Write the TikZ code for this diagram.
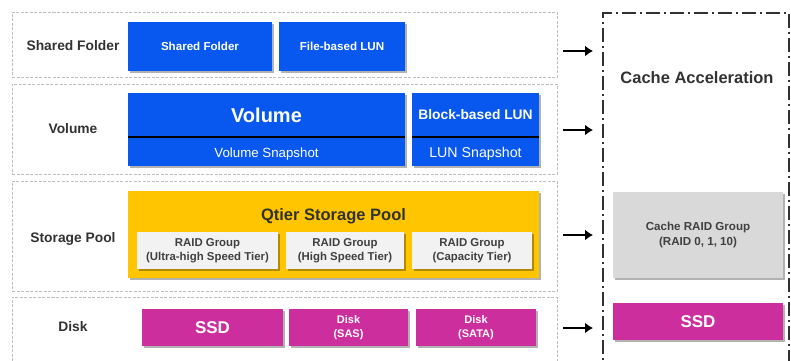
\documentclass[tikz,border=0pt]{standalone}
\usepackage{fontspec}
\setmainfont{Liberation Sans}
\usetikzlibrary{shadows,arrows.meta}
\definecolor{qblue}{RGB}{8,88,240}
\definecolor{qyellow}{RGB}{255,198,0}
\definecolor{qmagenta}{RGB}{204,46,158}
\definecolor{qcache}{RGB}{217,217,217}
\definecolor{qraid}{RGB}{242,242,242}
\definecolor{rowgray}{RGB}{190,190,190}
\definecolor{labelgray}{RGB}{50,50,50}
\definecolor{boxtext}{RGB}{64,64,64}
\begin{document}
\begin{tikzpicture}[x=1pt,y=-1pt,
  rowbox/.style={draw=rowgray, dash pattern=on 3pt off 1.5pt, line width=0.8pt},
  rowlabel/.style={font=\fontsize{13.8}{16}\selectfont\bfseries, text=labelgray},
  shadowed/.style={drop shadow={shadow xshift=1.8pt, shadow yshift=-1.8pt, opacity=0.3, fill=black}},
  box/.style={shadowed, inner sep=0pt, outer sep=0pt, draw=none, align=center},
  bluebox/.style={box, fill=qblue, text=white},
  magbox/.style={box, fill=qmagenta, text=white},
  raidbox/.style={box, fill=qraid, text=boxtext, font=\fontsize{11.4}{14.5}\selectfont\bfseries},
  arr/.style={line width=2.6pt, -{Latex[length=8pt,width=11pt]}},
  cachebox/.style={draw=labelgray, line width=1.6pt, dash pattern=on 14pt off 4pt on 2pt off 4pt}
]
\useasboundingbox (0,0) rectangle (791,360);
\clip (0,0) rectangle (791,360);
% row boxes
\node[rowbox, minimum width=545pt, minimum height=65pt, inner sep=0pt] (row1) at (284.5,44.5) {};
\node[rowbox, minimum width=545pt, minimum height=90pt, inner sep=0pt] (row2) at (284.5,129) {};
\node[rowbox, minimum width=545pt, minimum height=110pt, inner sep=0pt] (row3) at (284.5,236) {};
\node[rowbox, minimum width=545pt, minimum height=73pt, inner sep=0pt] (row4) at (284.5,333.5) {};
% cache box
\node[cachebox, minimum width=186pt, minimum height=357pt, inner sep=0pt] (cache) at (696,191.5) {};
% row labels
\node[rowlabel] (l1) at (73,46) {Shared Folder};
\node[rowlabel] (l2) at (73,129) {Volume};
\node[rowlabel] (l3) at (73,239) {Storage Pool};
\node[rowlabel] (l4) at (73,327) {Disk};
\node[font=\fontsize{16.5}{19}\selectfont\bfseries, text=labelgray] (ca) at (697,78) {Cache Acceleration};
% row 1
\node[bluebox, minimum width=144pt, minimum height=49pt, font=\fontsize{11.6}{14}\selectfont\bfseries] (sf) at (200,46.5) {Shared Folder};
\node[bluebox, minimum width=126pt, minimum height=49pt, font=\fontsize{11.6}{14}\selectfont\bfseries] (fl) at (342,46.5) {File-based LUN};
% row 2
\node[bluebox, minimum width=277pt, minimum height=73pt] (vol) at (266.5,129.5) {};
\node[bluebox, minimum width=127pt, minimum height=73pt] (blk) at (475.5,129.5) {};
\draw[line width=1.2pt, black] (128,137) -- (405,137);
\draw[line width=1.2pt, black] (412,137) -- (539,137);
\node[text=white, font=\fontsize{20}{24}\selectfont\bfseries] (volt) at (266.5,115) {Volume};
\node[text=white, font=\fontsize{13.3}{16}\selectfont] (vols) at (266.5,154.5) {Volume Snapshot};
\node[text=white, font=\fontsize{13.8}{16}\selectfont\bfseries] (blkt) at (475.5,115) {Block-based LUN};
\node[text=white, font=\fontsize{14.2}{16}\selectfont] (blks) at (475.5,153.5) {LUN Snapshot};
% row 3
\node[box, fill=qyellow, minimum width=411pt, minimum height=87pt] (qt) at (333.5,234.5) {};
\node[text=labelgray, font=\fontsize{16.5}{19}\selectfont\bfseries] (qtt) at (333.5,216) {Qtier Storage Pool};
\node[raidbox, minimum width=141pt, minimum height=37pt] (r1) at (207.5,250.5) {RAID Group\\(Ultra-high Speed Tier)};
\node[raidbox, minimum width=118pt, minimum height=37pt] (r2) at (345,250.5) {RAID Group\\(High Speed Tier)};
\node[raidbox, minimum width=120pt, minimum height=37pt] (r3) at (472,250.5) {RAID Group\\(Capacity Tier)};
% row 4
\node[magbox, minimum width=141pt, minimum height=37pt, font=\fontsize{17}{20}\selectfont\bfseries] (ssd) at (212.5,327.5) {SSD};
\node[magbox, minimum width=119pt, minimum height=37pt, font=\fontsize{11}{14.5}\selectfont\bfseries] (sas) at (348.5,327.5) {Disk\\(SAS)};
\node[magbox, minimum width=120pt, minimum height=37pt, font=\fontsize{11}{14.5}\selectfont\bfseries] (sata) at (476,327.5) {Disk\\(SATA)};
% cache column
\node[box, fill=qcache, text=boxtext, minimum width=170pt, minimum height=86pt, font=\fontsize{11.6}{14.5}\selectfont\bfseries] (craid) at (698,235) {Cache RAID Group\\(RAID 0, 1, 10)};
\node[magbox, minimum width=170pt, minimum height=37pt, font=\fontsize{17}{20}\selectfont\bfseries] (cssd) at (698,321.5) {SSD};
% arrows
\coordinate (a1s) at (563,51); \coordinate (a1e) at (593,51);
\coordinate (a2s) at (563,130); \coordinate (a2e) at (593,130);
\coordinate (a3s) at (563,235); \coordinate (a3e) at (593,235);
\coordinate (a4s) at (563,328); \coordinate (a4e) at (593,328);
\draw[arr] (a1s) -- (a1e);
\draw[arr] (a2s) -- (a2e);
\draw[arr] (a3s) -- (a3e);
\draw[arr] (a4s) -- (a4e);
\end{tikzpicture}
\end{document}
